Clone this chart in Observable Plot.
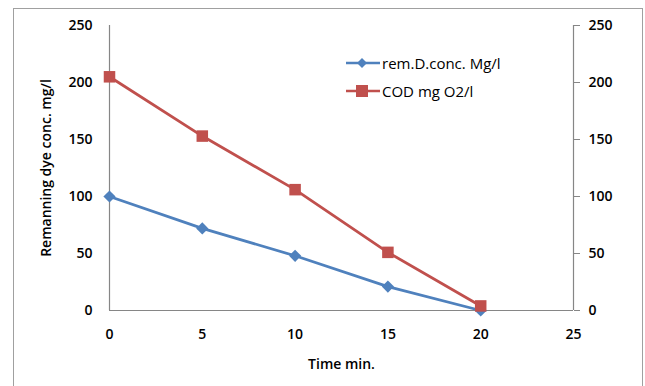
<!DOCTYPE html>
<html>
<head>
<meta charset="utf-8">
<script src="https://cdn.jsdelivr.net/npm/d3@7"></script>
<script src="https://cdn.jsdelivr.net/npm/@observablehq/plot@0.6"></script>
<style>
  html, body { margin: 0; padding: 0; background: #fff; }
  #wrap { position: relative; width: 645px; height: 386px; overflow: hidden; font-family: "Open Sans", sans-serif; }
  #border { position: absolute; left: 13px; top: 8px; width: 630px; height: 400px; border: 1px solid #a0a0a0; box-sizing: border-box; }
  #chart { position: absolute; left: 0; top: 0; }
  #chart svg { font-family: "Open Sans", sans-serif; }
  #chart svg [aria-label$="tick label"] text, #chart svg [aria-label$="axis label"] text { font-weight: 600; fill: #000; }
  #legend { position: absolute; left: 346px; top: 49px; font-size: 15px; color: #000; }
  .item { display: flex; align-items: center; height: 28px; }
  .item svg { margin-right: 2px; }
</style>
</head>
<body>
<div id="wrap">
  <div id="border"></div>
  <div id="chart"></div>
  <div id="legend"></div>
</div>
<script>
const times = [0, 5, 10, 15, 20];
const remDye = [100, 72, 48, 21, 0];
const cod = [205, 153, 106, 51, 4];
const seriesNames = ["rem.D.conc. Mg/l", "COD mg O2/l"];
const seriesColors = ["#4F81BD", "#C0504D"];
const seriesSymbols = ["diamond", "square"];
const xTicks = [0, 5, 10, 15, 20, 25];
const yTicks = [0, 50, 100, 150, 200, 250];

const data = [];
times.forEach((t, i) => data.push({time: t, value: remDye[i], series: seriesNames[0]}));
times.forEach((t, i) => data.push({time: t, value: cod[i], series: seriesNames[1]}));

const axisColor = "#868686";

const plot = Plot.plot({
  width: 645,
  height: 386,
  marginLeft: 109,
  marginRight: 72,
  marginTop: 25,
  marginBottom: 76,
  style: {fontSize: "14px", fontFamily: "Open Sans, sans-serif", background: "transparent"},
  x: {domain: [0, 25]},
  y: {domain: [0, 250]},
  marks: [
    Plot.axisX({ticks: xTicks, tickSize: 0, tickPadding: 19, label: "Time min.", labelAnchor: "center", labelOffset: 58, labelArrow: "none"}),
    Plot.axisY({anchor: "left", ticks: yTicks, tickSize: 0, tickPadding: 17, label: "Remanning dye conc. mg/l", labelAnchor: "center", labelOffset: 68, labelArrow: "none"}),
    Plot.axisY({anchor: "right", ticks: yTicks, tickSize: 6, tickPadding: 9, stroke: axisColor, label: null}),
    Plot.ruleX([0], {stroke: axisColor, strokeWidth: 1.2}),
    Plot.ruleY([0], {stroke: axisColor, strokeWidth: 1.2}),
    Plot.ruleX([25], {stroke: axisColor, strokeWidth: 1.2}),
    Plot.line(data, {x: "time", y: "value", z: "series", stroke: d => seriesColors[seriesNames.indexOf(d.series)], strokeWidth: 2.8}),
    Plot.dot(data.filter(d => d.series === seriesNames[0]), {x: "time", y: "value", symbol: "diamond2", fill: seriesColors[0], stroke: "none", r: 5.5}),
    Plot.dot(data.filter(d => d.series === seriesNames[1]), {x: "time", y: "value", symbol: "square", fill: seriesColors[1], r: 6.5})
  ]
});
document.getElementById("chart").appendChild(plot);

const legend = document.getElementById("legend");
seriesNames.forEach((name, i) => {
  const item = document.createElement("div");
  item.className = "item";
  const sym = seriesSymbols[i] === "diamond"
    ? `<path d="M16,${9-5} L${16+5},9 L16,${9+5} L${16-5},9 Z" fill="${seriesColors[i]}"/>`
    : `<rect x="${16-6}" y="${9-6}" width="12" height="12" fill="${seriesColors[i]}"/>`;
  item.innerHTML = `<svg width="34" height="18"><line x1="0" y1="9" x2="34" y2="9" stroke="${seriesColors[i]}" stroke-width="2.5"/>${sym}</svg><span>${name}</span>`;
  legend.appendChild(item);
});
</script>
</body>
</html>
